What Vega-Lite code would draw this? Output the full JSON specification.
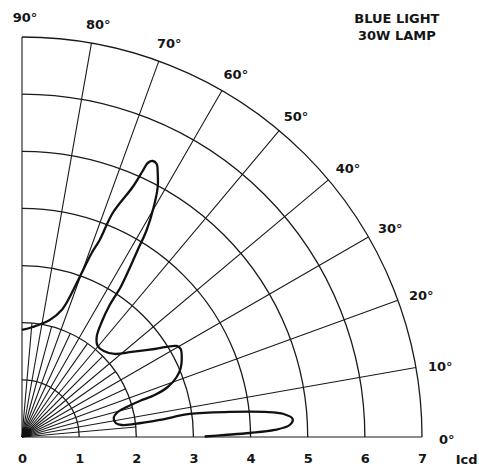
{
  "$schema": "https://vega.github.io/schema/vega-lite/v6.json",
  "width": 400,
  "height": 400,
  "autosize": "none",
  "padding": {"left": 22, "top": 37, "right": 57, "bottom": 34},
  "background": "white",
  "config": {
    "view": {"stroke": null},
    "font": "DejaVu Sans",
    "axisX": {"domain": false, "ticks": false, "grid": false, "tickCount": 7, "labelFlush": false, "labelFont": "DejaVu Sans", "labelFontSize": 13, "labelFontWeight": "bold", "labelColor": "#151515", "labelPadding": 15}
  },
  "datasets": {
    "rings": [
      {"r": 1, "a0": 0, "a1": 90}, {"r": 2, "a0": 0, "a1": 90}, {"r": 3, "a0": 0, "a1": 90},
      {"r": 4, "a0": 0, "a1": 90}, {"r": 5, "a0": 0, "a1": 90}, {"r": 6, "a0": 0, "a1": 90},
      {"r": 7, "a0": 0, "a1": 90}
    ],
    "spokes": [
      {"a": 0, "r": 7}, {"a": 5, "r": 2}, {"a": 10, "r": 7}, {"a": 15, "r": 2},
      {"a": 20, "r": 7}, {"a": 25, "r": 2}, {"a": 30, "r": 7}, {"a": 35, "r": 2},
      {"a": 40, "r": 7}, {"a": 45, "r": 2}, {"a": 50, "r": 7}, {"a": 55, "r": 2},
      {"a": 60, "r": 7}, {"a": 65, "r": 2}, {"a": 70, "r": 7}, {"a": 75, "r": 2},
      {"a": 80, "r": 7}, {"a": 85, "r": 2}, {"a": 90, "r": 7}
    ],
    "labels": [
      {"a": 0, "label": "0°"}, {"a": 10, "label": "10°"}, {"a": 20, "label": "20°"},
      {"a": 30, "label": "30°"}, {"a": 40, "label": "40°"}, {"a": 50, "label": "50°"},
      {"a": 60, "label": "60°"}, {"a": 70, "label": "70°"}, {"a": 80, "label": "80°"},
      {"a": 90, "label": "90°"}
    ],
    "curve": [
      {"i": 1, "x": 0.000, "y": 1.873}, {"i": 2, "x": 0.187, "y": 1.925}, {"i": 3, "x": 0.485, "y": 2.048},
      {"i": 4, "x": 0.695, "y": 2.223}, {"i": 5, "x": 0.835, "y": 2.450}, {"i": 6, "x": 1.010, "y": 2.800},
      {"i": 7, "x": 1.220, "y": 3.220}, {"i": 8, "x": 1.360, "y": 3.448}, {"i": 9, "x": 1.587, "y": 3.920},
      {"i": 10, "x": 1.937, "y": 4.375}, {"i": 11, "x": 2.112, "y": 4.655}, {"i": 12, "x": 2.200, "y": 4.795},
      {"i": 13, "x": 2.287, "y": 4.830}, {"i": 14, "x": 2.357, "y": 4.778}, {"i": 15, "x": 2.375, "y": 4.620},
      {"i": 16, "x": 2.375, "y": 4.375}, {"i": 17, "x": 2.305, "y": 4.025}, {"i": 18, "x": 2.182, "y": 3.623},
      {"i": 19, "x": 2.025, "y": 3.273}, {"i": 20, "x": 1.885, "y": 2.958}, {"i": 21, "x": 1.727, "y": 2.625},
      {"i": 22, "x": 1.535, "y": 2.310}, {"i": 23, "x": 1.395, "y": 2.013}, {"i": 24, "x": 1.307, "y": 1.750},
      {"i": 25, "x": 1.325, "y": 1.593}, {"i": 26, "x": 1.430, "y": 1.505}, {"i": 27, "x": 1.622, "y": 1.453},
      {"i": 28, "x": 1.920, "y": 1.488}, {"i": 29, "x": 2.322, "y": 1.540}, {"i": 30, "x": 2.707, "y": 1.593},
      {"i": 31, "x": 2.777, "y": 1.540}, {"i": 32, "x": 2.795, "y": 1.348}, {"i": 33, "x": 2.777, "y": 1.208},
      {"i": 34, "x": 2.707, "y": 1.050}, {"i": 35, "x": 2.550, "y": 0.875}, {"i": 36, "x": 2.322, "y": 0.735},
      {"i": 37, "x": 2.060, "y": 0.630}, {"i": 38, "x": 1.832, "y": 0.525}, {"i": 39, "x": 1.675, "y": 0.438},
      {"i": 40, "x": 1.605, "y": 0.333}, {"i": 41, "x": 1.640, "y": 0.245}, {"i": 42, "x": 1.745, "y": 0.210},
      {"i": 43, "x": 1.972, "y": 0.228}, {"i": 44, "x": 2.410, "y": 0.298}, {"i": 45, "x": 2.935, "y": 0.403},
      {"i": 46, "x": 3.635, "y": 0.438}, {"i": 47, "x": 4.247, "y": 0.438}, {"i": 48, "x": 4.580, "y": 0.403},
      {"i": 49, "x": 4.737, "y": 0.315}, {"i": 50, "x": 4.685, "y": 0.210}, {"i": 51, "x": 4.422, "y": 0.123},
      {"i": 52, "x": 3.985, "y": 0.070}, {"i": 53, "x": 3.547, "y": 0.035}, {"i": 54, "x": 3.197, "y": 0.009}
    ]
  },
  "layer": [
    {
      "data": {"name": "rings"},
      "mark": {"type": "arc", "filled": false, "stroke": "#1a1a1a", "strokeWidth": 1.3},
      "encoding": {
        "x": {"datum": 0, "type": "quantitative", "title": null, "scale": {"domain": [0, 7], "nice": false, "zero": true}},
        "y": {"datum": 0, "type": "quantitative", "scale": {"domain": [0, 7], "nice": false, "zero": true}, "axis": null},
        "theta": {"field": "a0", "type": "quantitative", "scale": {"domain": [90, -270], "range": [0, 6.283185307179586], "nice": false, "zero": false}},
        "theta2": {"field": "a1"},
        "radius": {"field": "r", "type": "quantitative", "scale": {"type": "linear", "domain": [0, 7], "range": [0, 400], "nice": false, "zero": true}},
        "radius2": {"field": "r"}
      }
    },
    {
      "data": {"name": "spokes"},
      "mark": {"type": "arc", "filled": false, "stroke": "#1a1a1a", "strokeWidth": 1.1},
      "encoding": {
        "x": {"datum": 0, "type": "quantitative", "title": null, "scale": {"domain": [0, 7], "nice": false, "zero": true}},
        "y": {"datum": 0, "type": "quantitative", "scale": {"domain": [0, 7], "nice": false, "zero": true}, "axis": null},
        "theta": {"field": "a", "type": "quantitative", "scale": {"domain": [90, -270], "range": [0, 6.283185307179586], "nice": false, "zero": false}},
        "theta2": {"field": "a"},
        "radius": {"field": "r", "type": "quantitative", "scale": {"type": "linear", "domain": [0, 7], "range": [0, 400], "nice": false, "zero": true}}
      }
    },
    {
      "data": {"values": [{}]},
      "mark": {"type": "rect", "color": "#111"},
      "encoding": {
        "x": {"datum": 0, "type": "quantitative", "title": null, "scale": {"domain": [0, 7], "nice": false, "zero": true}},
        "x2": {"datum": 0.15},
        "y": {"datum": 0, "type": "quantitative", "scale": {"domain": [0, 7], "nice": false, "zero": true}, "axis": null},
        "y2": {"datum": 0.15}
      }
    },
    {
      "data": {"name": "curve"},
      "mark": {"type": "line", "interpolate": "catmull-rom", "color": "#111", "strokeWidth": 2.3, "clip": false},
      "encoding": {
        "x": {"field": "x", "type": "quantitative", "title": null, "scale": {"domain": [0, 7], "nice": false, "zero": true}},
        "y": {"field": "y", "type": "quantitative", "scale": {"domain": [0, 7], "nice": false, "zero": true}, "axis": null},
        "order": {"field": "i", "type": "quantitative"}
      }
    },
    {
      "data": {"name": "labels"},
      "mark": {"type": "text", "font": "DejaVu Sans", "fontSize": 13, "fontWeight": "bold", "color": "#151515", "align": "center", "baseline": "middle", "dx": 3, "dy": 3},
      "encoding": {
        "x": {"datum": 0, "type": "quantitative", "title": null, "scale": {"domain": [0, 7], "nice": false, "zero": true}},
        "y": {"datum": 0, "type": "quantitative", "scale": {"domain": [0, 7], "nice": false, "zero": true}, "axis": null},
        "theta": {"field": "a", "type": "quantitative", "scale": {"domain": [90, -270], "range": [0, 6.283185307179586], "nice": false, "zero": false}},
        "radius": {"datum": 7.38, "type": "quantitative", "scale": {"type": "linear", "domain": [0, 7], "range": [0, 400], "nice": false, "zero": true}},
        "text": {"field": "label"}
      }
    },
    {
      "data": {"values": [{}]},
      "mark": {"type": "text", "text": ["BLUE LIGHT", "30W LAMP"], "font": "DejaVu Sans", "fontSize": 13, "fontWeight": "bold", "color": "#151515", "align": "center", "baseline": "top", "lineHeight": 17},
      "encoding": {
        "x": {"datum": 6.56, "type": "quantitative", "title": null, "scale": {"domain": [0, 7], "nice": false, "zero": true}},
        "y": {"datum": 7.42, "type": "quantitative", "scale": {"domain": [0, 7], "nice": false, "zero": true}, "axis": null}
      }
    },
    {
      "data": {"values": [{}]},
      "mark": {"type": "text", "text": "Icd", "font": "DejaVu Sans", "fontSize": 13, "fontWeight": "bold", "color": "#151515", "align": "center", "baseline": "middle"},
      "encoding": {
        "x": {"datum": 7.78, "type": "quantitative", "title": null, "scale": {"domain": [0, 7], "nice": false, "zero": true}},
        "y": {"datum": -0.4, "type": "quantitative", "scale": {"domain": [0, 7], "nice": false, "zero": true}, "axis": null}
      }
    }
  ]
}
